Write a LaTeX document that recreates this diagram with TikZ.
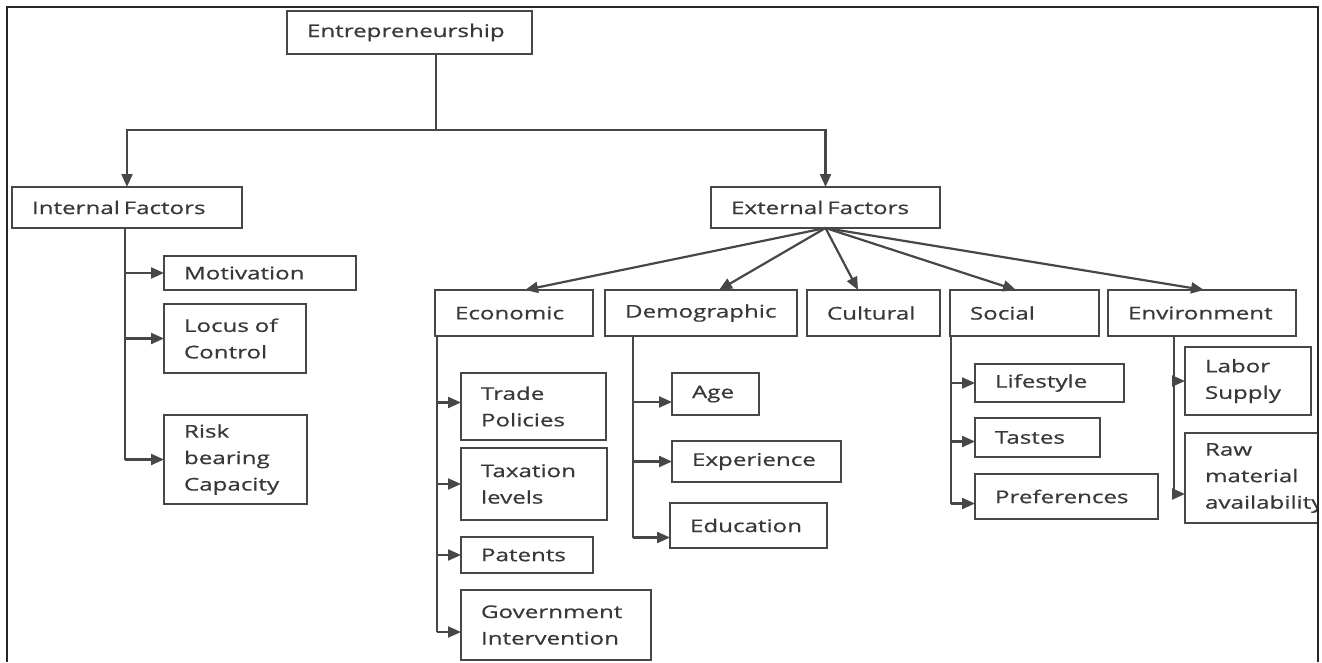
\documentclass[tikz,border=0pt]{standalone}
\usepackage{fontspec}
\setmainfont[FakeStretch=1.38,FakeBold=0.6]{Open Sans}
\usetikzlibrary{arrows.meta}
\newcommand\bx[6]{%
  \pgfmathsetmacro\mybw{#4-#2}\pgfmathsetmacro\mybh{#5-#3}\pgfmathsetmacro\mytw{#4-#2-40}%
  \node[box, minimum width=\mybw pt, minimum height=\mybh pt, text width=\mytw pt] (#1) at (#2,#3) {#6};}
\begin{document}
\begin{tikzpicture}[x=1pt,y=-1pt,
  box/.style={draw=black!72, line width=2.2pt, inner xsep=20pt, inner ysep=0pt, outer sep=0pt,
    align=left, anchor=north west, font=\fontsize{17.5}{26.5}\selectfont, text=black!78},
  conn/.style={draw=black!72, line width=2.2pt},
  arr/.style={conn, -{Triangle[length=13pt,width=11pt]}},
  frame/.style={draw=black!85, line width=2.8pt}]
\useasboundingbox (0,0) rectangle (1322,662);
\fill[white] (0,0) rectangle (1322,662);
\draw[frame] (7,662) -- (7,7) -- (1318,7) -- (1318,662);

\bx{ent}{287}{11}{532}{54}{Entrepreneurship}
\bx{int}{12}{187}{242}{228}{Internal\hspace{-2pt} Factors}
\bx{ext}{711}{187}{940}{228}{External\hspace{-2pt} Factors}
\bx{mot}{164}{256}{356}{290}{Motivation}
\bx{loc}{164}{304}{306}{373}{Locus of\\Control}
\bx{risk}{164}{415}{307}{504}{Risk\\bearing\\Capacity}
\bx{eco}{435}{290}{593}{336}{Economic}
\bx{dem}{605}{290}{797}{336}{Demographic}
\bx{cul}{807}{290}{940}{336}{Cultural}
\bx{soc}{950}{290}{1099}{336}{Social}
\bx{env}{1108}{290}{1296}{336}{Environment}
\bx{trade}{461}{373}{606}{440}{Trade\\Policies}
\bx{tax}{461}{448}{607}{520}{Taxation\\levels}
\bx{pat}{461}{537}{593}{573}{Patents}
\bx{gov}{461}{590}{651}{660}{Government\\Intervention}
\bx{age}{672}{373}{759}{415}{Age}
\bx{exp}{672}{441}{841}{482}{Experience}
\bx{edu}{670}{503}{827}{548}{Education}
\bx{life}{975}{364}{1124}{402}{Lifestyle}
\bx{tast}{975}{418}{1100}{457}{Tastes}
\bx{pref}{975}{474}{1158}{519}{Preferences}
\bx{lab}{1185}{347}{1311}{415}{Labor\\Supply}
\begin{scope}
\clip (7,7) rectangle (1317,662);
\bx{raw}{1185}{433}{1345}{523}{Raw\\material\\availability}
\end{scope}

% main split
\coordinate (jt) at (436,130);
\draw[conn] (ent.south -| jt) -- (jt);
\draw[arr] (jt) -| (int.north);
\draw[arr] (jt) -| (ext.north);

% fan from external factors
\coordinate (ecoT) at (525,0);
\coordinate (demT) at (719,0);
\coordinate (culT) at (858,0);
\coordinate (socT) at (1016,0);
\coordinate (envT) at (1204,0);
\draw[arr] (ext.south) -- (eco.north -| ecoT);
\draw[arr] (ext.south) -- (dem.north -| demT);
\draw[arr] (ext.south) -- (cul.north -| culT);
\draw[arr] (ext.south) -- (soc.north -| socT);
\draw[arr] (ext.south) -- (env.north -| envT);

% internal
\coordinate (t1) at (125,0);
\draw[conn] (int.south -| t1) -- (t1 |- risk.west);
\draw[arr] (t1 |- mot.west) -- (mot.west);
\draw[arr] (t1 |- loc.west) -- (loc.west);
\draw[arr] (t1 |- risk.west) -- (risk.west);

% economic
\coordinate (t2) at (437,0);
\coordinate (trada) at ([yshift=4pt]trade.west);
\coordinate (gova) at ([yshift=-7pt]gov.west);
\draw[conn] (eco.south -| t2) -- (t2 |- gova);
\draw[arr] (t2 |- trada) -- (trada);
\draw[arr] (t2 |- tax.west) -- (tax.west);
\draw[arr] (t2 |- pat.west) -- (pat.west);
\draw[arr] (t2 |- gova) -- (gova);

% demographic
\coordinate (t3) at (633,0);
\coordinate (agea) at ([yshift=-8pt]age.west);
\coordinate (edua) at ([yshift=-12pt]edu.west);
\draw[conn] (dem.south -| t3) -- (t3 |- edua);
\draw[arr] (t3 |- agea) -- (agea);
\draw[arr] (t3 |- exp.west) -- (exp.west);
\draw[arr] (t3 |- edua) -- (edua);

% social
\coordinate (t4) at (951,0);
\coordinate (tasta) at ([yshift=-4pt]tast.west);
\coordinate (prefa) at ([yshift=-7pt]pref.west);
\draw[conn] (soc.south -| t4) -- (t4 |- prefa);
\draw[arr] (t4 |- life.west) -- (life.west);
\draw[arr] (t4 |- tasta) -- (tasta);
\draw[arr] (t4 |- prefa) -- (prefa);

% environment
\coordinate (t5) at (1174,0);
\coordinate (rawa) at ([yshift=-16pt]raw.west);
\draw[conn] (env.south -| t5) -- (t5 |- rawa);
\draw[arr] (t5 |- lab.west) -- (lab.west);
\draw[arr] (t5 |- rawa) -- (rawa);
\end{tikzpicture}
\end{document}
